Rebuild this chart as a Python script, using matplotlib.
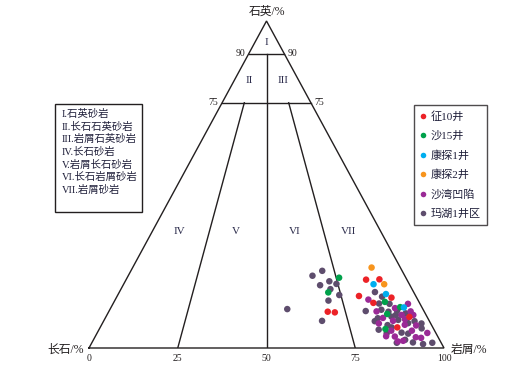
import matplotlib
matplotlib.use("Agg")
import matplotlib.pyplot as plt
from matplotlib.lines import Line2D
from matplotlib.patches import Rectangle
import numpy as np

plt.rcParams['font.family'] = ['Liberation Serif', 'Noto Sans CJK SC', 'DejaVu Sans']

# ---------------- data (percent: Q = 石英, F = 长石, R = 岩屑) ----------------
series_names = ['征10井', '沙15井', '康探1井', '康探2井', '沙湾凹陷', '玛湖1井区']
series_colors = ['#ec2227', '#00a14b', '#00aeef', '#f7941d', '#9a2a96', '#5e4d6d']

zheng10_Q = [11.1, 10.9, 20.9, 21.0, 15.9, 15.4, 13.8, 9.5, 6.3]
zheng10_R = [61.7, 63.8, 67.6, 71.3, 68.1, 77.5, 73.2, 85.5, 83.7]

sha15_Q = [21.5, 17.0, 14.1, 12.5, 10.4, 5.8]
sha15_R = [59.7, 58.9, 76.3, 81.4, 78.8, 80.6]

kangtan1_Q = [19.5, 16.5, 12.4]
kangtan1_R = [70.4, 75.4, 82.5]

kangtan2_Q = [24.6, 19.5]
kangtan2_R = [67.3, 73.4]

shawan_Q = [14.8, 11.2, 9.2, 8.3, 7.5, 5.3, 3.6, 2.0, 12.2, 13.5, 11.2, 7.1,
            6.9, 5.3, 4.6, 3.1, 10.1, 10.1, 3.5, 2.2, 3.3, 8.8]
shawan_R = [71.3, 75.4, 78.2, 81.5, 77.9, 82.5, 81.9, 86.0, 80.1, 83.1, 85.0, 85.4,
            88.7, 88.3, 93.0, 92.0, 83.0, 86.3, 84.4, 87.4, 90.4, 84.6]

mahu1_Q = [22.1, 23.6, 20.4, 19.2, 19.6, 18.0, 16.2, 14.5, 11.9, 8.3,
           17.1, 15.7, 13.6, 13.5, 11.3, 11.7, 11.1, 11.4, 10.1, 10.6,
           9.1, 9.6, 8.6, 8.2, 7.0, 7.6, 8.2, 7.5, 6.3, 5.6,
           6.0, 4.7, 4.5, 4.4, 2.5, 1.6, 1.7, 1.2, 1.6]
mahu1_R = [51.9, 53.9, 57.5, 55.5, 59.9, 59.0, 62.4, 60.2, 49.9, 61.5,
           72.0, 74.7, 74.9, 77.9, 72.3, 76.5, 78.8, 81.1, 81.4, 83.9,
           76.8, 80.4, 82.8, 76.4, 80.6, 86.1, 87.6, 89.9, 82.1, 78.8,
           90.7, 85.7, 81.6, 87.7, 87.8, 85.9, 90.4, 93.5, 95.9]

series_Q = [zheng10_Q, sha15_Q, kangtan1_Q, kangtan2_Q, shawan_Q, mahu1_Q]
series_R = [zheng10_R, sha15_R, kangtan1_R, kangtan2_R, shawan_R, mahu1_R]

field_labels = ['I', 'II', 'III', 'IV', 'V', 'VI', 'VII']
field_names = ['石英砂岩', '长石石英砂岩', '岩屑石英砂岩', '长石砂岩',
               '岩屑长石砂岩', '长石岩屑砂岩', '岩屑砂岩']
bottom_ticks = [0, 25, 50, 75, 100]
side_ticks = [90, 75]


def proj(Q, R):
    Q = np.asarray(Q, float)
    R = np.asarray(R, float)
    return R + Q / 2.0, Q


# ---------------- figure ----------------
W, H = 525, 381
fig = plt.figure(figsize=(W / 100, H / 100), dpi=100)
ax = fig.add_axes([89 / W, 33 / H, 355 / W, 327 / H])
ax.set_xlim(0, 100)
ax.set_ylim(0, 100)
ax.axis('off')

lc = '#231f20'
lw = 1.0
# outline
ax.plot([0, 100, 50, 0], [0, 0, 100, 0], color=lc, lw=lw, clip_on=False,
        solid_joinstyle='miter')
# Q = 90, Q = 75 lines
for q in side_ticks:
    x0, _ = proj(q, 0)
    x1, _ = proj(q, 100 - q)
    ax.plot([x0, x1], [q, q], color=lc, lw=lw)
# vertical 50 line up to Q=90
ax.plot([50, 50], [0, 90], color=lc, lw=lw)
# 25 and 75 ratio lines up to Q=75
for r in (25, 75):
    xa = r
    xb = r + (50 - r) * 0.75
    ax.plot([xa, xb], [0, 75], color=lc, lw=lw)

# field labels
fl_pos = [(50, 93.5), (45.1, 81.7), (54.6, 81.7), (25.4, 35.5), (41.3, 35.5),
          (58.0, 35.5), (73.2, 35.5)]
for lab, (x, y) in zip(field_labels, fl_pos):
    ax.text(x, y, lab, ha='center', va='center', fontsize=8,
            family='Liberation Serif', color='#2b2b4b')

# side tick labels
for q in side_ticks:
    xl, _ = proj(q, 0)
    xr, _ = proj(q, 100 - q)
    ax.text(xl - 1.0, q + 0.2, str(q), ha='right', va='center', fontsize=7,
            family='Liberation Serif', color=lc)
    ax.text(xr + 1.0, q + 0.2, str(q), ha='left', va='center', fontsize=7,
            family='Liberation Serif', color=lc)

# bottom tick labels
for t in bottom_ticks:
    ax.text(t, -3.1, str(t), ha='center', va='center', fontsize=7,
            family='Liberation Serif', color=lc, clip_on=False)

# axis titles
ax.text(50, 102.8, '石英/%', ha='center', va='center', fontsize=8.5,
        color=lc, clip_on=False)
ax.text(-1.5, -0.6, '长石/%', ha='right', va='center', fontsize=8.5,
        color=lc, clip_on=False)
ax.text(102.0, -0.6, '岩屑/%', ha='left', va='center', fontsize=8.5,
        color=lc, clip_on=False)

# scatter points (plot gray first, then purple, then others)
order = [5, 4, 0, 1, 2, 3]
for i in order:
    x, y = proj(series_Q[i], series_R[i])
    ax.scatter(x, y, s=22, color=series_colors[i], edgecolors='none',
               zorder=3, clip_on=False)

# right legend
handles = [Line2D([0], [0], marker='o', linestyle='none', markersize=4,
                  markerfacecolor=c, markeredgecolor='none')
           for c in series_colors]
leg = fig.legend(handles, series_names, loc='upper left',
                 bbox_to_anchor=(414 / W, 1 - 105 / H), fontsize=8,
                 frameon=True, fancybox=False, edgecolor='#231f20',
                 handlelength=0.5, handletextpad=0.45, labelspacing=0.8,
                 borderpad=0.55, borderaxespad=0)
leg.get_frame().set_linewidth(1.0)
for t in leg.get_texts():
    t.set_color('#1f1f3a')

# left classification box
lines = [f'{lab}.{name}' for lab, name in zip(field_labels, field_names)]
fig.text(62 / W, 1 - 109 / H, '\n'.join(lines), ha='left', va='top',
         fontsize=7.5, color='#1f1f3a', linespacing=1.33)
fig.patches.append(Rectangle((55 / W, 1 - 212 / H), 87 / W, 108 / H,
                             transform=fig.transFigure, fill=False,
                             edgecolor='#231f20', linewidth=1.0))

fig.savefig('out.png', dpi=100, facecolor='white')
